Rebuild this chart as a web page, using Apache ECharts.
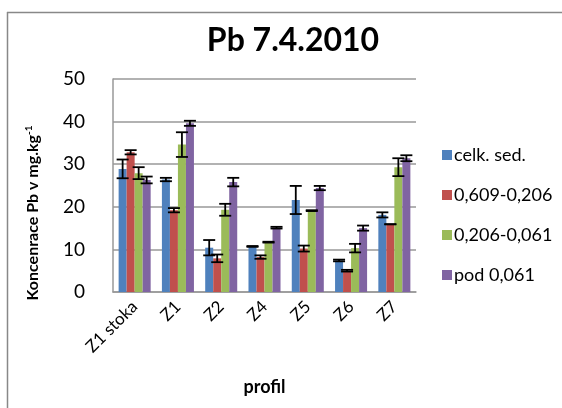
<!DOCTYPE html>
<html>
<head>
<meta charset="utf-8">
<script src="https://cdn.jsdelivr.net/npm/echarts@6/dist/echarts.min.js"></script>
<style>
  html, body { margin: 0; padding: 0; background: #fff; }
  #chart { width: 562px; height: 408px; }
</style>
</head>
<body>
<div id="chart"></div>
<script>
// data
var categories = ['Z1 stoka', 'Z1', 'Z2', 'Z4', 'Z5', 'Z6', 'Z7'];
var seriesNames = ['celk. sed.', '0,609-0,206', '0,206-0,061', 'pod 0,061'];
var celkSed = [28.9, 26.4, 10.4, 10.7, 21.6, 7.4, 18.1];
var frac609 = [32.8, 19.2, 7.9, 8.2, 10.2, 5.0, 15.9];
var frac206 = [27.9, 34.6, 19.3, 11.7, 19.1, 10.3, 29.3];
var pod061 = [26.3, 39.6, 25.8, 15.1, 24.4, 15.0, 31.4];
var errCelk = [2.2, 0.4, 1.8, 0.1, 3.3, 0.2, 0.6];
var err609 = [0.5, 0.5, 0.9, 0.4, 0.7, 0.2, 0.0];
var err206 = [1.4, 2.9, 1.4, 0.1, 0.1, 1.0, 2.1];
var errPod = [0.8, 0.6, 1.0, 0.2, 0.5, 0.6, 0.7];
var yTicks = [0, 10, 20, 30, 40, 50];

var values = [celkSed, frac609, frac206, pod061];
var errors = [errCelk, err609, err206, errPod];
var colors = ['#4F81BD', '#C0504D', '#9BBB59', '#8064A2'];
var catGap = 0.26;

var myChart = echarts.init(document.getElementById('chart'));

var series = [];
values.forEach(function (vals, i) {
  series.push({
    name: seriesNames[i],
    type: 'bar',
    data: vals,
    barGap: 0,
    barCategoryGap: (catGap * 100) + '%',
    itemStyle: { color: colors[i] }
  });
});

// error bars, one custom series per bar series
values.forEach(function (vals, i) {
  var d = vals.map(function (v, k) { return [k, v, errors[i][k]]; });
  series.push({
    name: 'err' + i,
    type: 'custom',
    data: d,
    z: 5,
    renderItem: function (params, api) {
      var k = api.value(0), v = api.value(1), e = api.value(2);
      var band = api.size([1, 0])[0];
      var barW = band * (1 - catGap) / 4;
      var c = api.coord([k, v]);
      var x = c[0] + (i - 1.5) * barW;
      var top = api.coord([k, v + e])[1];
      var bot = api.coord([k, v - e])[1];
      var hw = 6;
      var st = { stroke: '#000', lineWidth: 1.8 };
      return {
        type: 'group',
        children: [
          { type: 'line', shape: { x1: x, y1: top, x2: x, y2: bot }, style: st },
          { type: 'line', shape: { x1: x - hw, y1: top, x2: x + hw, y2: top }, style: st },
          { type: 'line', shape: { x1: x - hw, y1: bot, x2: x + hw, y2: bot }, style: st }
        ]
      };
    }
  });
});

var option = {
  animation: false,
  textStyle: { fontFamily: 'Lato' },
  title: {
    text: 'Pb 7.4.2010',
    left: 288,
    textAlign: 'center',
    top: 20,
    textStyle: { fontSize: 32, fontWeight: 'bold', color: '#000', fontFamily: 'Lato' }
  },
  legend: {
    data: seriesNames,
    orient: 'vertical',
    left: 437,
    top: 140,
    itemWidth: 10,
    itemHeight: 10,
    itemGap: 20,
    icon: 'rect',
    textStyle: { fontSize: 18, lineHeight: 20, color: '#000', padding: [0, 0, 0, -3] }
  },
  grid: { left: 113, right: 146, top: 79, bottom: 116 },
  xAxis: {
    type: 'category',
    data: categories,
    name: 'profil',
    nameLocation: 'middle',
    nameGap: 86,
    nameTextStyle: { fontSize: 18, fontWeight: 'bold', color: '#000' },
    axisTick: { show: false },
    axisLine: { lineStyle: { color: '#999', width: 1.5 } },
    axisLabel: { rotate: 45, fontSize: 17, color: '#000', margin: 12 }
  },
  yAxis: {
    type: 'value',
    min: yTicks[0],
    max: yTicks[yTicks.length - 1],
    interval: 10,
    axisLine: { show: true, lineStyle: { color: '#999', width: 1.5 } },
    axisTick: { show: false },
    splitLine: { lineStyle: { color: '#999', width: 1.5 } },
    axisLabel: { fontSize: 19, color: '#000', margin: 28 }
  },
  graphic: [
    { type: 'line', shape: { x1: 7, y1: 12.5, x2: 562, y2: 12.5 }, style: { stroke: '#888', lineWidth: 1.5 } },
    { type: 'line', shape: { x1: 7.5, y1: 12, x2: 7.5, y2: 408 }, style: { stroke: '#888', lineWidth: 1.5 } },
    {
      type: 'text',
      x: 33,
      y: 213,
      rotation: Math.PI / 2,
      style: {
        text: '{a|Koncenrace Pb v mg.kg}{s|-1}',
        align: 'center',
        verticalAlign: 'middle',
        rich: {
          a: { fontSize: 16, fontWeight: 'bold', fill: '#000', fontFamily: 'Lato' },
          s: { fontSize: 10, fontWeight: 'bold', fill: '#000', fontFamily: 'Lato', padding: [0, 0, 9, 0] }
        }
      }
    }
  ],
  series: series
};

myChart.setOption(option);
</script>
</body>
</html>
